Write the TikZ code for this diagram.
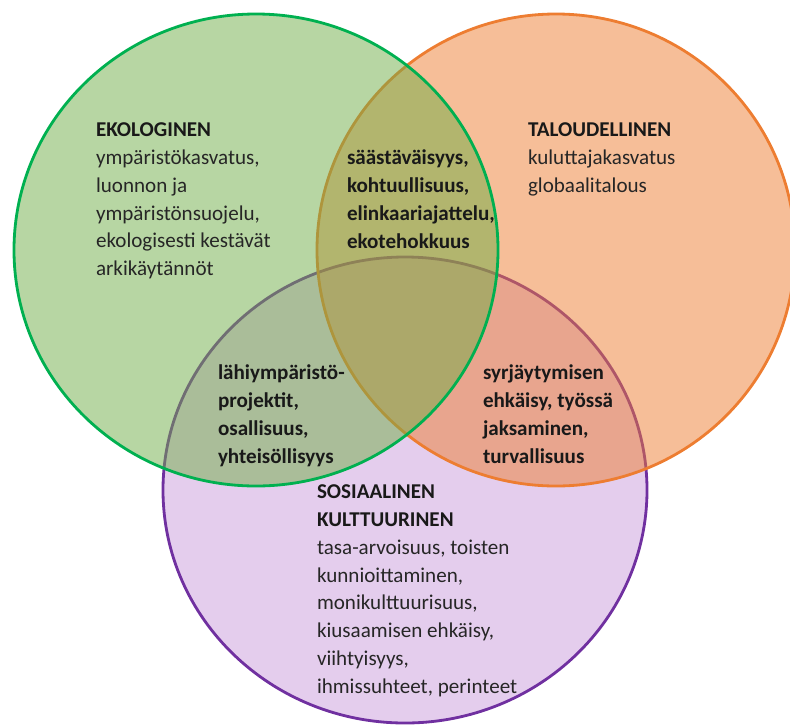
\documentclass[tikz,border=0pt]{standalone}
\usepackage{fontspec}
\setmainfont{Carlito}
\usetikzlibrary{positioning}
\definecolor{ekogreen}{HTML}{70AD47}
\definecolor{ekoline}{HTML}{00B050}
\definecolor{talofill}{HTML}{ED7D31}
\definecolor{taloline}{HTML}{ED7D31}
\definecolor{sosifill}{HTML}{CA9CDB}
\definecolor{sosiline}{HTML}{7030A0}
\tikzset{%
    area/.style={line width=1.6pt,fill opacity=0.5},
    areatext/.style={inner sep=0pt,outer sep=0pt,anchor=north west,align=left,
        font=\fontsize{12}{15.8}\selectfont,text=black!85},
    sharedtext/.style={areatext,font=\fontsize{12}{15.8}\selectfont\bfseries,text=black!90},
}

\begin{document}
\begin{tikzpicture}[x=0.02cm,y=-0.02cm]
      \useasboundingbox (0,0) rectangle (790,724);
      \clip (0,0) rectangle (790,724);

      % the three areas, back to front
      \draw [area,draw=sosiline,fill=sosifill] (405,490) ellipse [x radius=242,y radius=233];
      \draw [area,draw=taloline,fill=talofill] (556,250) ellipse [x radius=239,y radius=236];
      \draw [area,draw=ekoline,fill=ekogreen] (256,250) ellipse [x radius=242,y radius=236];

      \node [areatext] (ekol) at (96,123) {\textbf{\color{black!90}EKOLOGINEN}\\ympäristökasvatus,\\luonnon ja\\ympäristönsuojelu,\\ekologisesti kestävät\\arkikäytännöt};
      \node [areatext] (talo) at (528,123) {\textbf{\color{black!90}TALOUDELLINEN}\\kuluttajakasvatus\\globaalitalous};
      \node [areatext] (sosi) at (317,485) {\textbf{\color{black!90}SOSIAALINEN}\\\textbf{\color{black!90}KULTTUURINEN}\\tasa-arvoisuus, toisten\\kunnioittaminen,\\monikulttuurisuus,\\kiusaamisen ehkäisy,\\viihtyisyys,\\ihmissuhteet, perinteet};

      \node [sharedtext] (ekotalo) at (347,150) {säästäväisyys,\\kohtuullisuus,\\elinkaariajattelu,\\ekotehokkuus};
      \node [sharedtext] (ekososi) at (218,365) {lähiympäristö-\\projektit,\\osallisuus,\\yhteisöllisyys};
      \node [sharedtext] (talososi) at (483,365) {syrjäytymisen\\ehkäisy, työssä\\jaksaminen,\\turvallisuus};
\end{tikzpicture}
\end{document}
